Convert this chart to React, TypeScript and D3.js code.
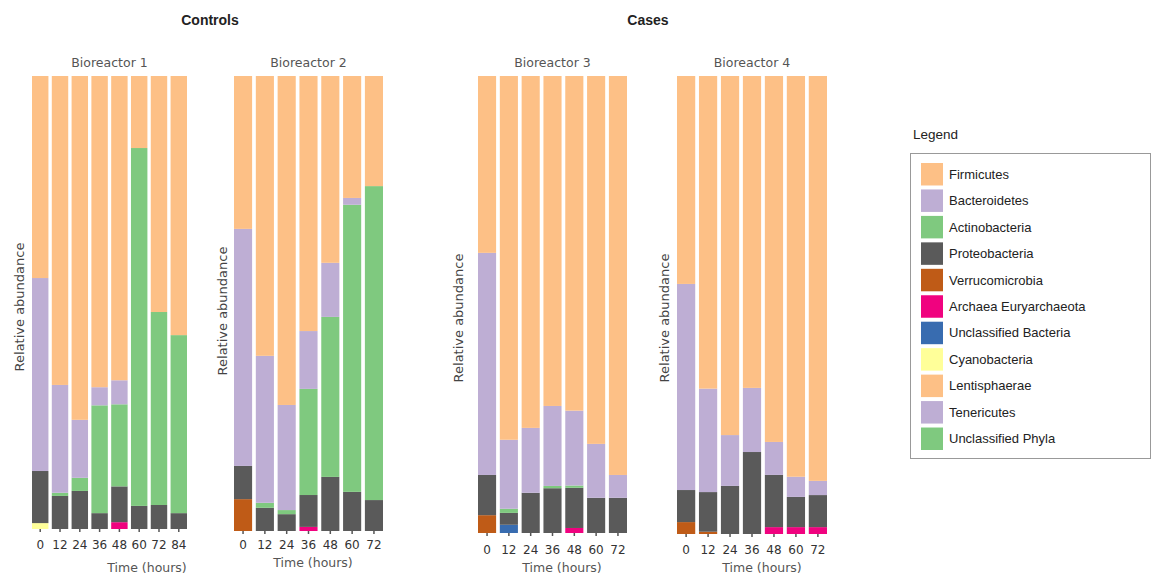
import React from 'react';
import * as d3 from 'd3';

const W = 1153;
const H = 579;

// legend order (top of stack first)
const phyla = [
  'Firmicutes', 'Bacteroidetes', 'Actinobacteria', 'Proteobacteria', 'Verrucomicrobia',
  'Archaea Euryarchaeota', 'Unclassified Bacteria', 'Cyanobacteria', 'Lentisphaerae',
  'Tenericutes', 'Unclassified Phyla'
];
const phylaColors = [
  '#fdc086', '#beaed4', '#7fc97f', '#5a5a5a', '#bf5b17',
  '#f0027f', '#386cb0', '#ffff99', '#fdc086', '#beaed4', '#7fc97f'
];

const hoursLong = [0, 12, 24, 36, 48, 60, 72, 84];
const hours = [0, 12, 24, 36, 48, 60, 72];

// relative abundance (%)
const bioreactor1: Record<string, number[]> = {
  'Firmicutes':            [44.6, 68.2, 75.9, 68.7, 67.1, 15.9, 52.1, 57.2],
  'Bacteroidetes':         [42.6, 23.8, 12.8, 4.0, 5.3, 0, 0, 0],
  'Actinobacteria':        [0, 0.7, 2.9, 23.8, 18.1, 79.0, 42.6, 39.3],
  'Proteobacteria':        [11.5, 7.3, 8.4, 3.5, 7.9, 5.1, 5.3, 3.5],
  'Archaea Euryarchaeota': [0, 0, 0, 0, 1.5, 0, 0, 0],
  'Cyanobacteria':         [1.3, 0, 0, 0, 0, 0, 0, 0],
};
const bioreactor2: Record<string, number[]> = {
  'Firmicutes':            [33.6, 61.5, 72.3, 56.0, 41.1, 26.8, 24.2],
  'Bacteroidetes':         [52.1, 32.3, 23.1, 12.7, 11.9, 1.5, 0],
  'Actinobacteria':        [0, 1.1, 0.9, 23.3, 35.2, 63.1, 69.0],
  'Proteobacteria':        [7.3, 5.1, 3.7, 7.0, 11.9, 8.6, 6.8],
  'Verrucomicrobia':       [7.0, 0, 0, 0, 0, 0, 0],
  'Archaea Euryarchaeota': [0, 0, 0, 0.9, 0, 0, 0],
};
const bioreactor3: Record<string, number[]> = {
  'Firmicutes':            [38.7, 79.6, 77.0, 72.2, 73.3, 80.5, 87.3],
  'Bacteroidetes':         [48.6, 15.1, 14.2, 17.5, 16.4, 11.8, 5.0],
  'Actinobacteria':        [0, 0.9, 0, 0.5, 0.5, 0, 0],
  'Proteobacteria':        [8.8, 2.6, 8.8, 9.8, 8.8, 7.7, 7.7],
  'Verrucomicrobia':       [3.9, 0, 0, 0, 0, 0, 0],
  'Archaea Euryarchaeota': [0, 0, 0, 0, 1.1, 0, 0],
  'Unclassified Bacteria': [0, 1.8, 0, 0, 0, 0, 0],
};
const bioreactor4: Record<string, number[]> = {
  'Firmicutes':            [45.4, 68.6, 78.4, 68.1, 79.9, 87.5, 88.4],
  'Bacteroidetes':         [45.0, 22.7, 11.1, 14.0, 7.2, 4.4, 3.1],
  'Proteobacteria':        [7.0, 8.7, 10.5, 17.9, 11.4, 6.6, 7.0],
  'Verrucomicrobia':       [2.6, 0.5, 0, 0, 0, 0, 0],
  'Archaea Euryarchaeota': [0, 0, 0, 0, 1.5, 1.5, 1.5],
};

const groupTitles = ['Controls', 'Cases'];
const panelTitles = ['Bioreactor 1', 'Bioreactor 2', 'Bioreactor 3', 'Bioreactor 4'];

// layout only
const panels = [
  {data: bioreactor1, times: hoursLong, x0: 32, x1: 187, top: 76, bottom: 529, ylabX: 19, ylabY: 307, tickY: 549, timeX: 147, timeY: 572},
  {data: bioreactor2, times: hours, x0: 234, x1: 383, top: 76, bottom: 531, ylabX: 222, ylabY: 311, tickY: 549, timeX: 313, timeY: 567},
  {data: bioreactor3, times: hours, x0: 478, x1: 627, top: 76, bottom: 533, ylabX: 458, ylabY: 318, tickY: 554, timeX: 562, timeY: 572},
  {data: bioreactor4, times: hours, x0: 677, x1: 827, top: 76, bottom: 534, ylabX: 664, ylabY: 318, tickY: 554, timeX: 762, timeY: 572},
];

const color = d3.scaleOrdinal<string, string>().domain(phyla).range(phylaColors);
const stackKeys = phyla.slice().reverse();
const FONT = '"DejaVu Sans", sans-serif';
const ARIAL = '"Liberation Sans", Arial, sans-serif';

function Panel({p, title}: {p: typeof panels[0], title: string}) {
  const rows = p.times.map((t, i) => {
    const r: any = {time: t};
    stackKeys.forEach(k => { r[k] = p.data[k] ? p.data[k][i] : 0; });
    return r;
  });
  const series = d3.stack<any>().keys(stackKeys).offset(d3.stackOffsetExpand)(rows);
  const x = d3.scaleBand<number>().domain(p.times).range([p.x0, p.x1]).paddingInner(0.17).paddingOuter(0);
  const y = d3.scaleLinear().domain([0, 1]).range([p.bottom, p.top]);
  const cx = (p.x0 + p.x1) / 2;
  return (
    <g>
      <text x={cx} y={67} textAnchor="middle" fontFamily={FONT} fontSize={12.5} fill="#555">{title}</text>
      {series.map(s => (
        <g key={s.key} fill={color(s.key)}>
          {s.map((d, i) => (d[1] - d[0] > 0 ?
            <rect key={i} x={x(p.times[i])} width={x.bandwidth()} y={y(d[1])} height={y(d[0]) - y(d[1])} /> : null))}
        </g>
      ))}
      {p.times.map(t => (
        <g key={t}>
          <line x1={x(t)! + x.bandwidth() / 2} x2={x(t)! + x.bandwidth() / 2} y1={p.bottom} y2={p.bottom + 3} stroke="#555" strokeWidth={1.5} />
          <text x={x(t)! + x.bandwidth() / 2} y={p.tickY} textAnchor="middle" fontFamily={FONT} fontSize={12} fill="#333">{t}</text>
        </g>
      ))}
      <text x={p.timeX} y={p.timeY} textAnchor="middle" fontFamily={FONT} fontSize={12.5} fill="#555">Time (hours)</text>
      <text transform={`translate(${p.ylabX},${p.ylabY}) rotate(-90)`} textAnchor="middle" dominantBaseline="central"
        fontFamily={FONT} fontSize={13} fill="#444">Relative abundance</text>
    </g>
  );
}

export default function App() {
  const legendY = d3.scaleBand<string>().domain(phyla).range([163, 450]).paddingInner(0.15);
  return (
    <svg width={W} height={H} style={{position: 'absolute', left: 0, top: 0, background: '#fff'}}>
      <text x={210} y={25} textAnchor="middle" fontFamily={ARIAL} fontWeight="bold" fontSize={14} fill="#222">{groupTitles[0]}</text>
      <text x={648} y={25} textAnchor="middle" fontFamily={ARIAL} fontWeight="bold" fontSize={14} fill="#222">{groupTitles[1]}</text>
      {panels.map((p, i) => <Panel key={i} p={p} title={panelTitles[i]} />)}
      <text x={913} y={139} fontFamily={ARIAL} fontSize={13.5} fill="#222">Legend</text>
      <rect x={910.5} y={153.5} width={240} height={305} fill="none" stroke="#999" />
      {phyla.map(k => (
        <g key={k}>
          <rect x={921} y={legendY(k)} width={22} height={legendY.bandwidth()} fill={color(k)} />
          <text x={949} y={legendY(k)! + legendY.bandwidth() / 2} dominantBaseline="central" fontFamily={ARIAL} fontSize={13} fill="#222">{k}</text>
        </g>
      ))}
    </svg>
  );
}
